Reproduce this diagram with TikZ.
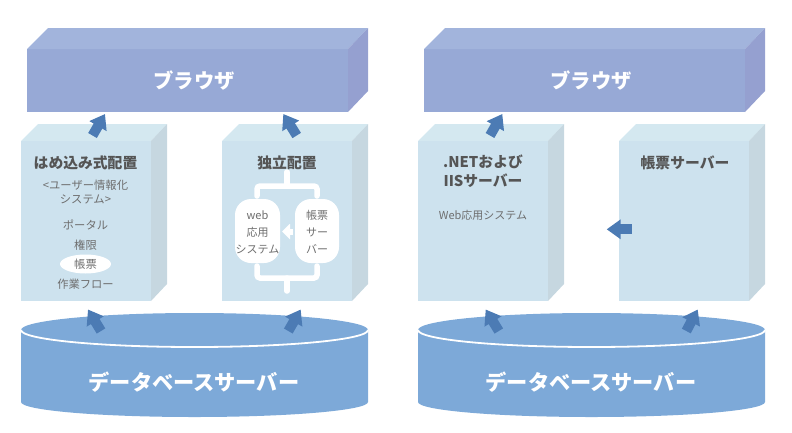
\documentclass[tikz,border=0pt]{standalone}
\usepackage{fontspec}
\setmainfont{Noto Sans CJK JP}
\usetikzlibrary{arrows.meta,shapes.geometric}
\definecolor{brfront}{HTML}{97A9D6}
\definecolor{brtop}{HTML}{A2B4DC}
\definecolor{brside}{HTML}{95A0D0}
\definecolor{bxfront}{HTML}{CDE2EE}
\definecolor{bxtop}{HTML}{D4E8F0}
\definecolor{bxside}{HTML}{C6D7E0}
\definecolor{dbfill}{HTML}{7DA9D8}
\definecolor{arrowblue}{HTML}{4C7BB4}
\definecolor{headtext}{HTML}{555555}
\definecolor{subtext}{HTML}{6E6E6E}
\begin{document}
\begin{tikzpicture}[x=1pt,y=-1pt,
    big/.style={text=white,font=\bfseries\fontsize{20.3}{24}\selectfont},
    head/.style={text=headtext,align=center,font=\bfseries\fontsize{14.8}{19}\selectfont},
    sub/.style={text=subtext,align=center,inner sep=0pt,font=\fontsize{11.3}{13.5}\selectfont},
    inner/.style={text=subtext,align=center,inner sep=0pt,font=\fontsize{11}{17}\selectfont},
    pill/.style={fill=white,rounded corners=16pt},
    flow/.style={draw=arrowblue,line width=10pt,-{Triangle[length=14pt,width=19pt]}},
    wire/.style={draw=white,line width=5.5pt,line cap=round,rounded corners=3pt}]
\useasboundingbox (0,0) rectangle (792,432);
% browsers
\fill[brfront] (27,49) rectangle (348,112);
\fill[brtop] (27,49) -- (48,28) -- (368,28) -- (348,49) -- cycle;
\fill[brside] (348,49) -- (368,28) -- (368,91) -- (348,112) -- cycle;
\fill[brfront] (424,49) rectangle (745,112);
\fill[brtop] (424,49) -- (445,28) -- (765,28) -- (745,49) -- cycle;
\fill[brside] (745,49) -- (765,28) -- (765,91) -- (745,112) -- cycle;
\node[big] (br1) at (194,80) {ブラウザ};
\node[big] (br2) at (591,80) {ブラウザ};
% boxes
\fill[bxfront] (21,141) rectangle (151,301);
\fill[bxtop] (21,141) -- (38,124) -- (167,124) -- (151,141) -- cycle;
\fill[bxside] (151,141) -- (167,124) -- (167,284) -- (151,301) -- cycle;
\fill[bxfront] (222,141) rectangle (352,301);
\fill[bxtop] (222,141) -- (239,124) -- (368,124) -- (352,141) -- cycle;
\fill[bxside] (352,141) -- (368,124) -- (368,284) -- (352,301) -- cycle;
\fill[bxfront] (418,141) rectangle (548,301);
\fill[bxtop] (418,141) -- (435,124) -- (564,124) -- (548,141) -- cycle;
\fill[bxside] (548,141) -- (564,124) -- (564,284) -- (548,301) -- cycle;
\fill[bxfront] (619,141) rectangle (749,301);
\fill[bxtop] (619,141) -- (636,124) -- (765,124) -- (749,141) -- cycle;
\fill[bxside] (749,141) -- (765,124) -- (765,284) -- (749,301) -- cycle;
% first box
\node[head] (embed) at (85.5,163) {はめ込み式配置};
\node[sub] (info) at (85.5,192) {<ユーザー情報化\\システム>};
\node[sub] (portal) at (85.5,225) {ポータル};
\node[sub] (auth) at (85.5,245) {権限};
\node[sub,fill=white,ellipse,minimum width=51pt,minimum height=19pt] (form) at (85.5,264) {帳票};
\node[sub] (work) at (85.5,284) {作業フロー};
% second box
\node[head] (alone) at (287,163) {独立配置};
\draw[wire] (287,172) -- (287,186);
\draw[wire] (257,196) -- (257,186) -- (317,186) -- (317,196);
\draw[wire] (257,266) -- (257,278) -- (317,278) -- (317,266);
\draw[wire] (287,278) -- (287,291);
\fill[pill] (235,199) rectangle (280,263);
\fill[pill] (295,199) rectangle (339,263);
\node[inner] (webapp) at (257.5,232) {web\\応用\\システム};
\node[inner] (formsv) at (317,232) {帳票\\サー\\バー};
\coordinate (w1) at (292.5,231.5);
\coordinate (w2) at (282,231.5);
\draw[white,line width=6pt,-{Triangle[length=8pt,width=15pt]}] (w1) -- (w2);
% right boxes
\node[head] (net) at (483,171) {.NETおよび\\IISサーバー};
\node[sub,font=\fontsize{11}{13.5}\selectfont] (webright) at (483,215) {Web応用システム};
\node[head] (formright) at (685,163) {帳票サーバー};
% databases
\fill[dbfill] (21,330) -- (21,402) arc[start angle=180,end angle=360,x radius=173.5pt,y radius=15pt] -- (368,330) arc[start angle=0,end angle=180,x radius=173.5pt,y radius=17pt] -- cycle;
\draw[white,line width=1.8pt] (21,330) arc[start angle=180,end angle=360,x radius=173.5pt,y radius=17pt];
\fill[dbfill] (418,330) -- (418,402) arc[start angle=180,end angle=360,x radius=173.5pt,y radius=15pt] -- (765,330) arc[start angle=0,end angle=180,x radius=173.5pt,y radius=17pt] -- cycle;
\draw[white,line width=1.8pt] (418,330) arc[start angle=180,end angle=360,x radius=173.5pt,y radius=17pt];
\node[big,font=\bfseries\fontsize{21.2}{25}\selectfont] (db1) at (194,382) {データベースサーバー};
\node[big,font=\bfseries\fontsize{21.2}{25}\selectfont] (db2) at (591,382) {データベースサーバー};
% arrows
\coordinate (a1) at (92.5,135.5);
\coordinate (a2) at (105,114);
\coordinate (b1) at (296.7,135.5);
\coordinate (b2) at (283.3,114);
\coordinate (c1) at (490,135.5);
\coordinate (c2) at (502.3,114);
\coordinate (d1) at (631.7,229.3);
\coordinate (d2) at (606.7,229.3);
\coordinate (e1) at (101,331);
\coordinate (e2) at (88,309.5);
\coordinate (f1) at (288.3,331);
\coordinate (f2) at (300.7,309.5);
\coordinate (g1) at (498.8,331);
\coordinate (g2) at (485.7,309.5);
\coordinate (h1) at (686.3,331);
\coordinate (h2) at (697.7,309.5);
\draw[flow] (a1) -- (a2);
\draw[flow] (b1) -- (b2);
\draw[flow] (c1) -- (c2);
\draw[flow] (d1) -- (d2);
\draw[flow] (e1) -- (e2);
\draw[flow] (f1) -- (f2);
\draw[flow] (g1) -- (g2);
\draw[flow] (h1) -- (h2);
\end{tikzpicture}
\end{document}
